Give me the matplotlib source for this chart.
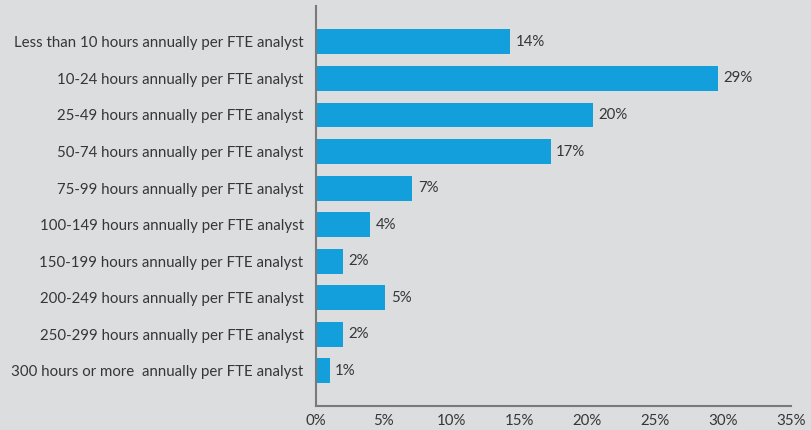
import matplotlib.pyplot as plt
import numpy as np

categories = [
    "Less than 10 hours annually per FTE analyst",
    "10-24 hours annually per FTE analyst",
    "25-49 hours annually per FTE analyst",
    "50-74 hours annually per FTE analyst",
    "75-99 hours annually per FTE analyst",
    "100-149 hours annually per FTE analyst",
    "150-199 hours annually per FTE analyst",
    "200-249 hours annually per FTE analyst",
    "250-299 hours annually per FTE analyst",
    "300 hours or more  annually per FTE analyst",
]
values = [14.3, 29.6, 20.4, 17.3, 7.1, 4.0, 2.0, 5.1, 2.0, 1.0]
value_labels = ["14%", "29%", "20%", "17%", "7%", "4%", "2%", "5%", "2%", "1%"]
xticks = [0, 5, 10, 15, 20, 25, 30, 35]

bg = "#dcdddf"
bar_color = "#129fdb"
text_color = "#363636"

plt.rcParams['font.family'] = ['Lato', 'DejaVu Sans']

fig = plt.figure(figsize=(8.12, 4.30), dpi=100, facecolor=bg)
ax = fig.add_axes([316 / 812, 24 / 430, 475 / 812, 400 / 430])
ax.set_facecolor(bg)

y = np.arange(len(categories))
ax.barh(y, values, height=0.68, color=bar_color)
for yi, v, lab in zip(y, values, value_labels):
    ax.text(v + 0.4, yi, lab, va='center', ha='left', fontsize=10.8, color=text_color)

ax.set_xlim(0, 35)
ax.set_ylim(9.96, -0.98)
ax.set_yticks(y)
ax.set_yticklabels(categories, fontsize=10.8, color=text_color)
ax.set_xticks(xticks)
ax.set_xticklabels([f"{t}%" for t in xticks], fontsize=10.8, color=text_color)
ax.tick_params(length=0)
ax.tick_params(axis='y', pad=9)
ax.tick_params(axis='x', pad=6)

for s in ['top', 'right']:
    ax.spines[s].set_visible(False)
for s in ['left', 'bottom']:
    ax.spines[s].set_color('#7a7a7a')
    ax.spines[s].set_linewidth(1.5)

fig.savefig("out.png", dpi=100, facecolor=bg)
